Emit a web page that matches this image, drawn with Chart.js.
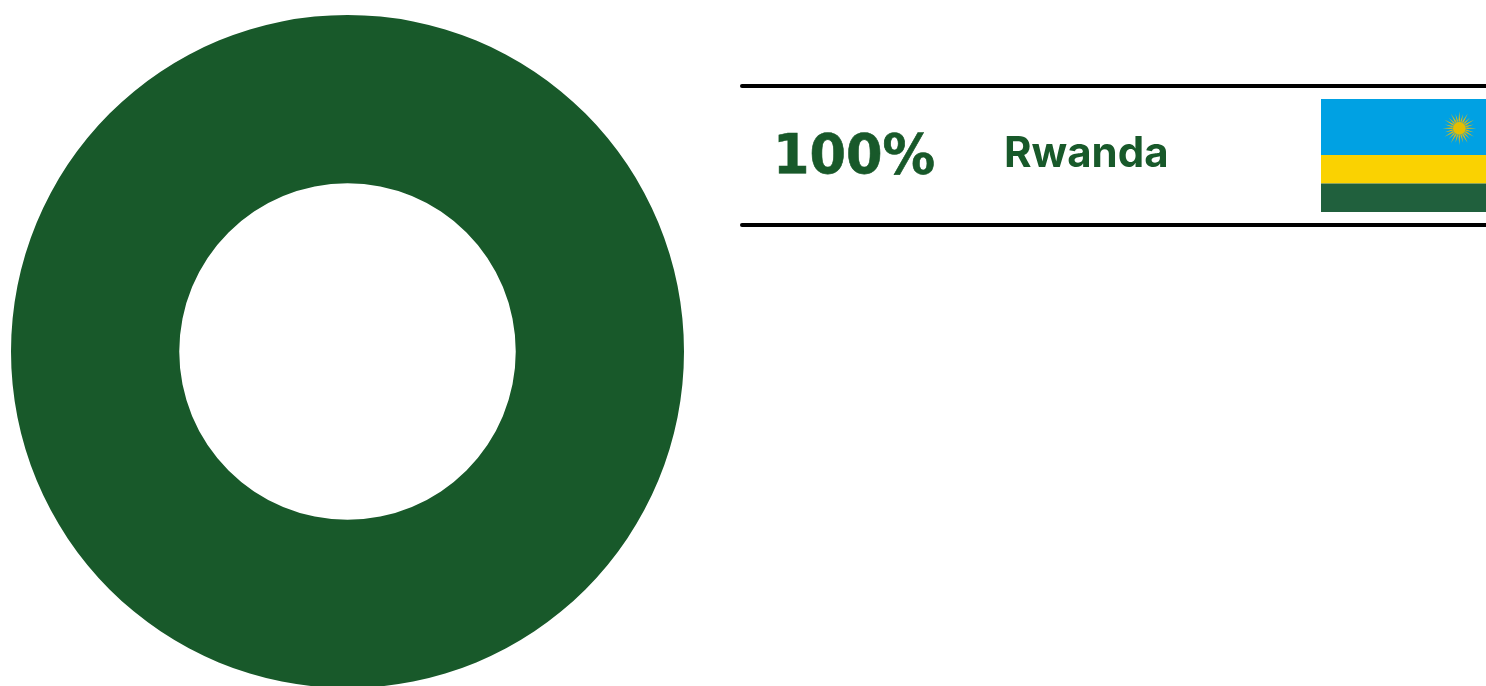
<!DOCTYPE html>
<html>
<head>
<meta charset="utf-8">
<script src="https://cdn.jsdelivr.net/npm/chart.js@4"></script>
<style>
  html, body { margin: 0; padding: 0; background: #fff; overflow: hidden; width: 1486px; height: 686px; }
  #donut { position: absolute; left: 11px; top: 15px; }
  .rule { position: absolute; left: 740px; width: 760px; height: 4px; background: #000; border-radius: 2px; }
  .txt { position: absolute; color: #18592a; white-space: nowrap; line-height: 1; will-change: transform; }
  #pct { left: 773px; top: 127px; font: 700 52.5px/1 "DejaVu Sans", sans-serif; -webkit-text-stroke: 0.6px #18592a; transform-origin: left top; transform: scaleY(1.05); }
  #name { left: 1004px; top: 131px; font: 700 42px/1 Inter, sans-serif; }
  #flag { position: absolute; left: 1321px; top: 99px; }
</style>
</head>
<body>
<canvas id="donut" width="673" height="673"></canvas>
<div class="rule" style="top:84px"></div>
<div class="rule" style="top:223px"></div>
<div class="txt" id="pct"></div>
<div class="txt" id="name"></div>
<svg id="flag" width="165" height="113" viewBox="0 0 165 113">
  <rect width="165" height="56" fill="#00a1e3"/>
  <rect y="56" width="165" height="28.5" fill="#fad201"/>
  <rect y="84.5" width="165" height="28.5" fill="#20603d"/>
  <g id="sun" transform="translate(138.3 29.3)"></g>
</svg>
<script>
let countries = ["Rwanda"];
let shares = [100];
let sliceColors = ["#18592a"];

// legend row
document.getElementById("pct").textContent = shares[0] + "%";
document.getElementById("name").textContent = countries[0];

// flag sun
let sun = document.getElementById("sun");
let rays = "";
for (let i = 0; i < 24; i++) {
  let a = i * Math.PI / 12;
  let r = i % 2 == 0 ? 17 : 15;
  let nx = Math.cos(a), ny = Math.sin(a);
  rays += '<polygon fill="#d9b81a" points="' +
    (nx * r) + ',' + (ny * r) + ' ' +
    (-ny * 1.4) + ',' + (nx * 1.4) + ' ' +
    (ny * 1.4) + ',' + (-nx * 1.4) + '"/>';
}
sun.innerHTML = rays + '<circle r="7.5" fill="#00a1e3" opacity="0.35"/><circle r="6.2" fill="#e5be01"/>';

new Chart(document.getElementById("donut"), {
  type: "doughnut",
  data: {
    labels: countries,
    datasets: [{ data: shares, backgroundColor: sliceColors, borderWidth: 0 }]
  },
  options: {
    responsive: false,
    animation: false,
    cutout: "50%",
    layout: { padding: 0 },
    plugins: { legend: { display: false }, tooltip: { enabled: false } }
  }
});
</script>
</body>
</html>
